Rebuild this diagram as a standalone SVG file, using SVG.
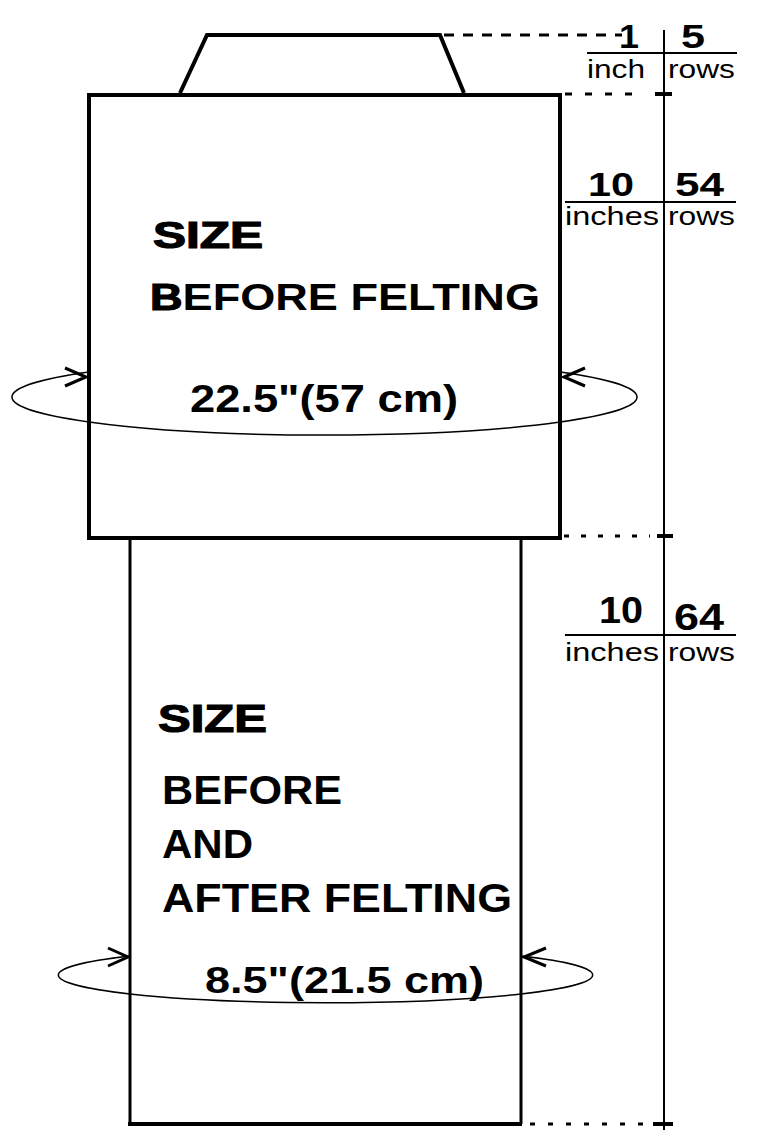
<svg xmlns="http://www.w3.org/2000/svg" width="770" height="1143" viewBox="0 0 770 1143">
<style>
.shape{fill:none;stroke:#000;stroke-linejoin:miter}
.thick{stroke-width:4}
.dash{stroke:#000;stroke-width:3;fill:none}
.ell{stroke:#000;stroke-width:1.5;fill:none}
.t{font-family:"Liberation Sans",Arial,sans-serif;fill:#000}
.b{font-weight:bold}
.heavy{stroke:#000;stroke-width:1.2}
</style>
<rect width="770" height="1143" fill="#fff"/>
<g id="top-trapezoid">
<path class="shape thick" d="M180,93 L207,35 L440,35 L464,93"/>
</g>
<g id="upper-box">
<rect class="shape thick" x="89" y="95" width="471" height="443"/>
<text class="t b heavy" x="153" y="248" font-size="36" textLength="110" lengthAdjust="spacingAndGlyphs">SIZE</text>
<text class="t b" x="150" y="310" font-size="36" textLength="390" lengthAdjust="spacingAndGlyphs"><tspan class="heavy">B</tspan>EFORE FELTING</text>
<text class="t b" x="190" y="412" font-size="38" textLength="268" lengthAdjust="spacingAndGlyphs">22.5"(57 cm)</text>
</g>
<g id="lower-box">
<path class="shape" stroke-width="3" d="M130,540 L130,1124 M521,540 L521,1124"/>
<path class="shape thick" d="M128,1124 L522,1124"/>
<text class="t b heavy" x="158" y="732" font-size="39" textLength="109" lengthAdjust="spacingAndGlyphs">SIZE</text>
<text class="t b" x="162" y="804" font-size="40" textLength="180" lengthAdjust="spacingAndGlyphs">BEFORE</text>
<text class="t b" x="162" y="858" font-size="40" textLength="91" lengthAdjust="spacingAndGlyphs">AND</text>
<text class="t b" x="162" y="912" font-size="40" textLength="350" lengthAdjust="spacingAndGlyphs">AFTER FELTING</text>
<text class="t b" x="205" y="993" font-size="36" textLength="279" lengthAdjust="spacingAndGlyphs">8.5"(21.5 cm)</text>
</g>
<g id="scale">
<line x1="664" y1="30" x2="664" y2="1130" stroke="#000" stroke-width="2"/>
<text class="t b" x="619" y="48" font-size="34" textLength="20" lengthAdjust="spacingAndGlyphs">1</text>
<text class="t b" x="681" y="48" font-size="34" textLength="24" lengthAdjust="spacingAndGlyphs">5</text>
<line x1="587" y1="53" x2="737" y2="53" stroke="#000" stroke-width="2"/>
<text class="t" x="587" y="78" font-size="25" textLength="58" lengthAdjust="spacingAndGlyphs">inch</text>
<text class="t" x="668" y="78" font-size="25" textLength="67" lengthAdjust="spacingAndGlyphs">rows</text>
<text class="t b" x="588" y="196" font-size="34" textLength="46" lengthAdjust="spacingAndGlyphs">10</text>
<text class="t b" x="675" y="196" font-size="34" textLength="49" lengthAdjust="spacingAndGlyphs">54</text>
<line x1="565" y1="202" x2="736" y2="202" stroke="#000" stroke-width="2"/>
<text class="t" x="565" y="225" font-size="26" textLength="94" lengthAdjust="spacingAndGlyphs">inches</text>
<text class="t" x="668" y="225" font-size="26" textLength="67" lengthAdjust="spacingAndGlyphs">rows</text>
<text class="t b" x="599" y="623" font-size="36" textLength="44" lengthAdjust="spacingAndGlyphs">10</text>
<text class="t b" x="674" y="630" font-size="36" textLength="50" lengthAdjust="spacingAndGlyphs">64</text>
<line x1="565" y1="635" x2="736" y2="635" stroke="#000" stroke-width="2"/>
<text class="t" x="565" y="661" font-size="26" textLength="94" lengthAdjust="spacingAndGlyphs">inches</text>
<text class="t" x="668" y="661" font-size="26" textLength="67" lengthAdjust="spacingAndGlyphs">rows</text>
</g>
<g id="connectors">
<line class="dash" x1="444" y1="35" x2="622" y2="35" stroke-dasharray="10 9"/>
<line class="dash" x1="565" y1="94" x2="645" y2="94" stroke-dasharray="7 13"/>
<line x1="655" y1="94" x2="672" y2="94" stroke="#000" stroke-width="4"/>
<line class="dash" x1="564" y1="536" x2="650" y2="536" stroke-dasharray="5 12"/>
<line x1="657" y1="536" x2="673" y2="536" stroke="#000" stroke-width="4"/>
<line class="dash" x1="530" y1="1124" x2="645" y2="1124" stroke-dasharray="5 13"/>
<line x1="653" y1="1124" x2="673" y2="1124" stroke="#000" stroke-width="4"/>
<path class="ell" d="M89,372 A312,38 0 0 0 89,422 A312,38 0 0 0 560,422 A312,38 0 0 0 560,372"/>
<path class="shape" stroke-width="3" d="M65,368 L86,377 L65,386"/>
<path class="shape" stroke-width="3" d="M585,368 L564,377 L585,386"/>
<path class="ell" d="M130,956 A270,28 0 0 0 130,994 A270,28 0 0 0 521,994 A270,28 0 0 0 521,956"/>
<path class="shape" stroke-width="3" d="M108,948 L128,957 L108,966"/>
<path class="shape" stroke-width="3" d="M546,948 L524,957 L546,966"/>
</g>
</svg>
